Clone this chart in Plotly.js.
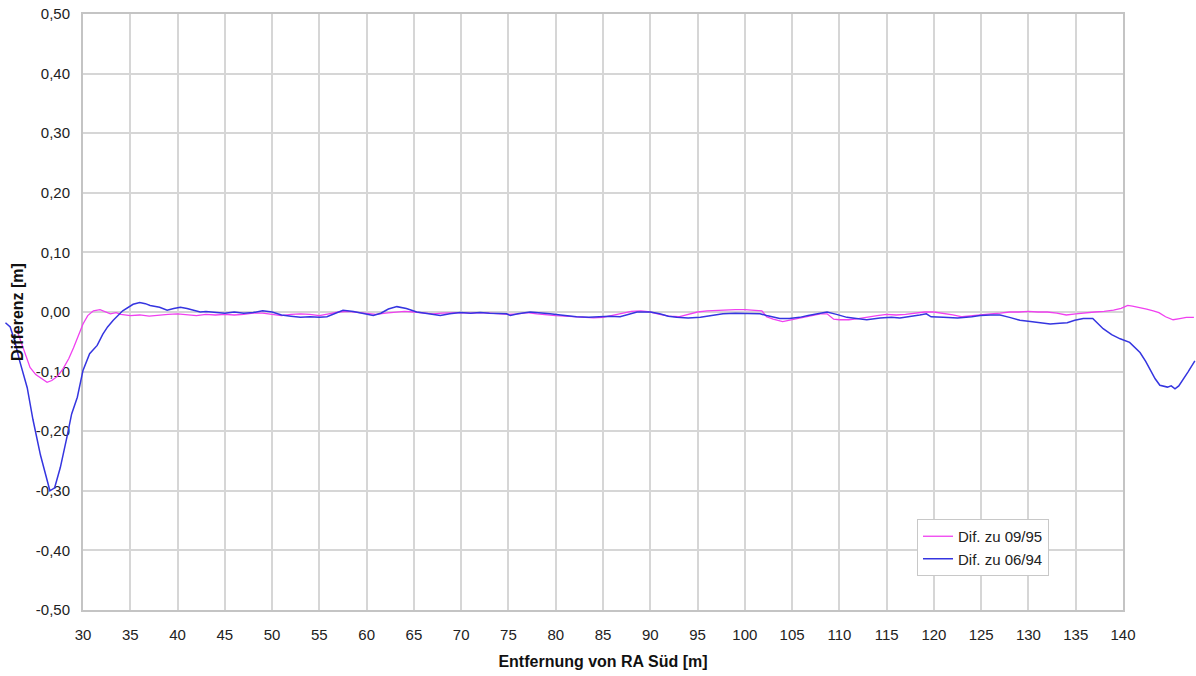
<!DOCTYPE html>
<html><head><meta charset="utf-8">
<script src="https://cdn.plot.ly/plotly-3.0.1.min.js"></script>
<style>html,body{margin:0;padding:0;background:#fff}#chart{width:1196px;height:676px}</style>
</head><body><div id="chart"></div>
<script>
const seriesNames = ["Dif. zu 09/95", "Dif. zu 06/94"];
const xTickVals = [30,35,40,45,50,55,60,65,70,75,80,85,90,95,100,105,110,115,120,125,130,135,140];
const yTickVals = [-0.5,-0.4,-0.3,-0.2,-0.1,0,0.1,0.2,0.3,0.4,0.5];
const yTickText = ["-0,50","-0,40","-0,30","-0,20","-0,10","0,00","0,10","0,20","0,30","0,40","0,50"];
const xTitle = "Entfernung von RA Süd [m]";
const yTitle = "Differenz [m]";

const x0995 = [23.0,23.7,24.4,25.0,25.6,26.2,26.7,27.3,27.9,28.5,29.0,29.5,30.0,30.5,31.1,31.8,32.4,32.9,33.5,34,35,36,37,38,39,40,41,42,43,44,45,46,47,48,49,50,51,52,53,54,55,56,57,58,59,60,61,62,63,64,65,66,67,68,69,70,71,72,73,74,75,76,77,78,79,80,81,82,83,84,85,86,87,88,89,90,91,92,93,94,95,96,97,98,99,100,101,101.8,102.3,103,104,105,106,107,108,108.7,109.4,110,111,112,113,114,115,116,117,118,119,120,121,122,123,124,125,126,127,128,129,130,131,132,133,134,135,136,137,138,139,139.8,140.5,141,141.8,142.5,143.2,143.8,144.5,145.3,146,146.7,147.5];
const y0995 = [-0.030,-0.060,-0.093,-0.105,-0.112,-0.118,-0.115,-0.108,-0.095,-0.078,-0.060,-0.040,-0.020,-0.006,0.002,0.004,0.000,-0.003,-0.001,-0.004,-0.006,-0.005,-0.007,-0.005,-0.004,-0.003,-0.005,-0.006,-0.004,-0.005,-0.004,-0.005,-0.004,-0.002,-0.002,-0.004,-0.006,-0.004,-0.003,-0.004,-0.006,-0.003,0.000,0.001,-0.001,-0.003,-0.004,-0.002,0.000,0.001,0.000,-0.002,-0.003,-0.002,-0.001,-0.001,-0.002,-0.001,-0.002,-0.003,-0.004,-0.003,-0.001,-0.003,-0.005,-0.006,-0.007,-0.008,-0.009,-0.010,-0.009,-0.006,-0.002,0.001,0.002,0.000,-0.004,-0.007,-0.008,-0.004,0.000,0.002,0.003,0.004,0.004,0.004,0.003,0.002,-0.008,-0.012,-0.016,-0.013,-0.009,-0.006,-0.003,-0.003,-0.012,-0.013,-0.013,-0.011,-0.008,-0.006,-0.004,-0.005,-0.004,-0.002,0.000,0.000,-0.002,-0.005,-0.008,-0.006,-0.004,-0.003,-0.002,0.000,0.000,0.001,0.000,0.000,-0.002,-0.005,-0.003,-0.001,0.000,0.001,0.003,0.006,0.011,0.010,0.008,0.005,0.002,-0.001,-0.008,-0.013,-0.011,-0.009,-0.009];

const x0694 = [21.8,22.3,22.8,23.3,24.1,24.7,25.5,26.2,26.5,27.0,27.6,28.3,28.8,29.4,30.0,30.7,31.5,32.1,32.6,33.2,34.2,35.3,36.0,36.6,37.1,38.1,38.9,39.6,40.3,41.0,41.6,42.4,43,44,45,46,47,48,49,50,51,52,53,54,55,55.8,56.6,57.5,58.6,59.6,60.7,61.5,62.3,63.2,64.2,65.3,66.5,67.8,68.8,69.9,71,72,73,74,74.8,75.2,76,77.3,78.3,79.4,80.5,81.3,82.2,83.5,84.7,85.7,86.8,87.7,88.6,90,91,91.9,92.8,94,95.3,96.5,97.7,99,100.3,101.6,102.3,103,103.7,104.7,105.8,106.7,107.7,108.7,109.7,110.8,111.8,112.9,114.3,115.5,116.4,117.5,118.5,119.2,119.7,121,122.5,124,124.9,126,127,128,129.1,130.2,131.2,132.3,133.3,134.1,134.9,135.8,136.8,137.9,138.8,139.7,140.7,141.3,141.8,142.4,142.9,143.4,143.9,144.7,145.1,145.5,145.9,146.3,146.9,147.6];
const y0694 = [-0.018,-0.025,-0.050,-0.082,-0.127,-0.180,-0.240,-0.283,-0.300,-0.295,-0.261,-0.210,-0.171,-0.143,-0.098,-0.070,-0.056,-0.037,-0.025,-0.014,0.002,0.013,0.016,0.014,0.011,0.008,0.003,0.006,0.008,0.006,0.003,0.000,0.001,-0.001,-0.002,0.000,-0.002,-0.001,0.002,0.000,-0.005,-0.007,-0.009,-0.008,-0.009,-0.008,-0.003,0.003,0.001,-0.002,-0.006,-0.002,0.005,0.009,0.006,0.000,-0.003,-0.006,-0.003,-0.001,-0.002,-0.001,-0.002,-0.002,-0.003,-0.006,-0.003,0.000,-0.001,-0.003,-0.005,-0.007,-0.008,-0.009,-0.008,-0.007,-0.008,-0.004,0.000,0.000,-0.003,-0.007,-0.009,-0.010,-0.009,-0.006,-0.003,-0.002,-0.002,-0.003,-0.006,-0.009,-0.011,-0.011,-0.009,-0.006,-0.003,0.000,-0.004,-0.009,-0.011,-0.013,-0.010,-0.009,-0.010,-0.008,-0.005,-0.003,-0.008,-0.009,-0.010,-0.008,-0.006,-0.005,-0.005,-0.009,-0.014,-0.016,-0.018,-0.020,-0.019,-0.018,-0.014,-0.011,-0.011,-0.028,-0.038,-0.045,-0.051,-0.060,-0.068,-0.083,-0.098,-0.112,-0.123,-0.126,-0.124,-0.129,-0.124,-0.115,-0.100,-0.082];

// pixel geometry: plot box from 30 (x=83px) to 140 (x=1123px) inside a 1196px wide page
const W = 1196, boxL = 83, boxR = 1123;
const pxPerUnit = (boxR - boxL) / (140 - 30);
const fullRange = [30 - boxL / pxPerUnit, 140 + (W - boxR) / pxPerUnit];

const font = {family: "Liberation Sans, Arial, sans-serif", size: 15, color: "#222"};
const titleFont = {family: font.family, size: 16, color: "#111", weight: "bold"};
const traces = [
  // empty trace that only registers the framed x/y subplot (grid, ticks, titles)
  {x: [null], y: [null], type: "scatter", mode: "lines", xaxis: "x", yaxis: "y", showlegend: false, hoverinfo: "skip"},
  {x: x0995, y: y0995, name: seriesNames[0], type: "scatter", mode: "lines", xaxis: "x2", yaxis: "y2",
   line: {color: "#f040f0", width: 1.3}},
  {x: x0694, y: y0694, name: seriesNames[1], type: "scatter", mode: "lines", xaxis: "x2", yaxis: "y2",
   line: {color: "#3535e0", width: 1.5}}
];
const layout = {
  width: 1196, height: 676,
  margin: {l: 0, r: 0, t: 14, b: 66},
  paper_bgcolor: "#fff", plot_bgcolor: "rgba(0,0,0,0)",
  font: font,
  showlegend: true,
  xaxis: {domain: [boxL / W, boxR / W], range: [30, 140], tickvals: xTickVals, ticktext: xTickVals.map(String),
    showgrid: true, gridcolor: "#d6d6d6", gridwidth: 2, zeroline: false,
    showline: true, linecolor: "#c4c4c4", linewidth: 2, mirror: true, ticks: "", ticklabelstandoff: 10,
    tickfont: font, title: {text: xTitle, font: titleFont, standoff: 14},
    anchor: "y", fixedrange: true, automargin: false},
  yaxis: {domain: [0, 1], range: [-0.5, 0.5], tickvals: yTickVals, ticktext: yTickText,
    showgrid: true, gridcolor: "#d6d6d6", gridwidth: 2, zeroline: false,
    showline: true, linecolor: "#c4c4c4", linewidth: 2, mirror: true, ticks: "", ticklabelstandoff: 8,
    tickfont: font, title: {text: yTitle, font: titleFont, standoff: 8},
    anchor: "x", fixedrange: true, automargin: false},
  xaxis2: {domain: [0, 1], range: fullRange, visible: false, anchor: "y2", fixedrange: true},
  yaxis2: {domain: [0, 1], range: [-0.5, 0.5], visible: false, anchor: "x2", fixedrange: true},
  legend: {x: 917 / W, y: (610 - 519) / 596, xanchor: "left", yanchor: "top",
    bgcolor: "#fff", bordercolor: "#c8c8c8", borderwidth: 1,
    font: {family: font.family, size: 15, color: "#222"}, itemwidth: 30, tracegroupgap: 0}
};
Plotly.newPlot("chart", traces, layout, {displayModeBar: false, staticPlot: true});
</script>
</body></html>
